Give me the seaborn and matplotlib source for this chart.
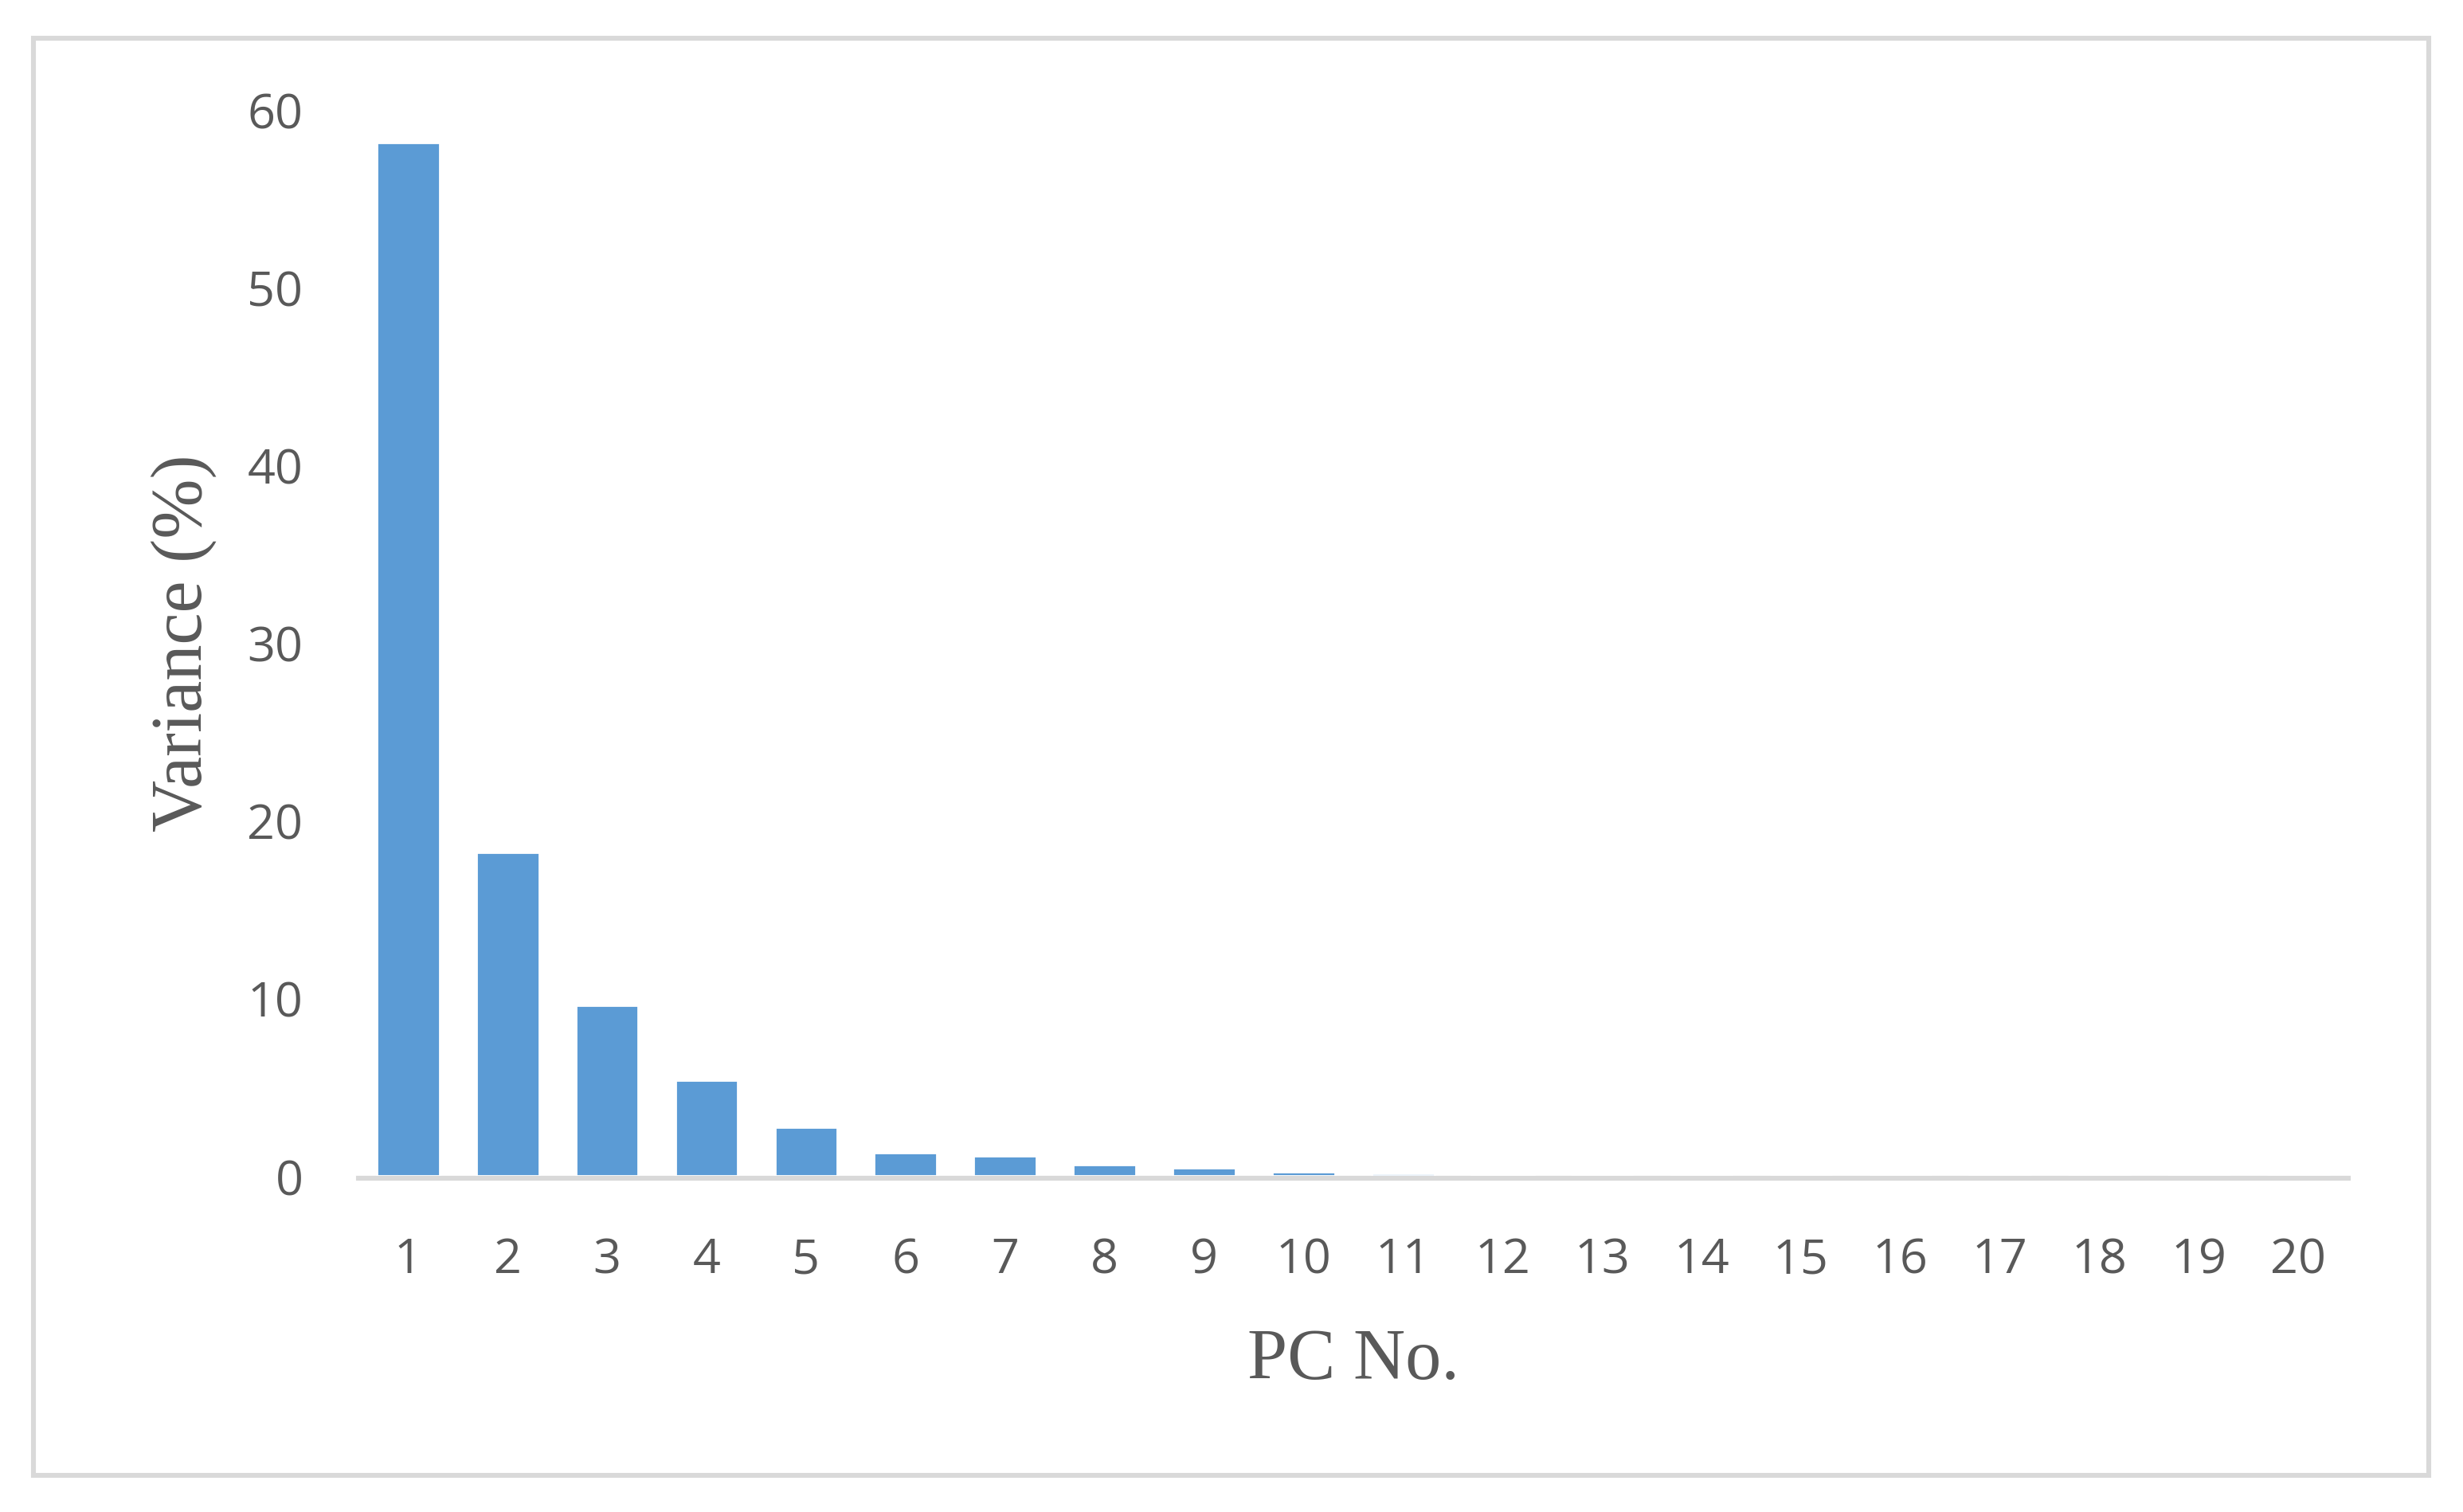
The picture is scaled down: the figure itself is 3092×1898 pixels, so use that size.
import pandas as pd
import matplotlib.pyplot as plt
import seaborn as sns
from matplotlib.patches import Rectangle

# PCA explained variance per component
pc_labels = [str(i) for i in range(1, 21)]
variance = [58.1, 18.2, 9.6, 5.4, 2.75, 1.3, 1.13, 0.63, 0.45, 0.23,
            0.14, 0.09, 0, 0, 0, 0, 0, 0, 0, 0]

df = pd.DataFrame({'pc': pc_labels, 'variance': variance})

sns.set_style('white')
plt.rcParams['font.family'] = ['Open Sans', 'DejaVu Sans']

fig = plt.figure(figsize=(15.46, 9.495), dpi=200)
ax = fig.add_axes([0.1455, 0.2222, 0.8079, 0.7051])

sns.barplot(data=df, x='pc', y='variance', color='#5B9BD5', saturation=1,
            width=0.63, ax=ax, zorder=3)

ax.set_ylim(0, 60)
ax.set_xlim(-0.5, 19.5)
ax.set_yticks(range(0, 61, 10))

grey = '#D9D9D9'
text_grey = '#595959'
for s in ['top', 'right', 'left']:
    ax.spines[s].set_visible(False)
# axis line sits just under the bars so tiny bars stay visible
ax.spines['bottom'].set_color(grey)
ax.spines['bottom'].set_linewidth(2.2)
ax.spines['bottom'].set_position(('outward', 1.1))
ax.spines['bottom'].set_zorder(1)

ax.tick_params(axis='x', length=0, pad=26, labelsize=22, labelcolor=text_grey)
ax.tick_params(axis='y', length=0, pad=25, labelsize=22, labelcolor=text_grey)

serif = {'family': 'Liberation Serif', 'size': 32.5, 'color': text_grey}
ax.set_xlabel('PC No.', fontdict=serif, labelpad=20)
ax.set_ylabel('Variance (%)', fontdict=serif, labelpad=14)

# outer chart frame
fig.patches.append(Rectangle((0.0135, 0.024), 0.9725, 0.95,
                             transform=fig.transFigure, fill=False,
                             edgecolor=grey, linewidth=2.2))

fig.savefig('out.png', dpi=200, facecolor='white')
